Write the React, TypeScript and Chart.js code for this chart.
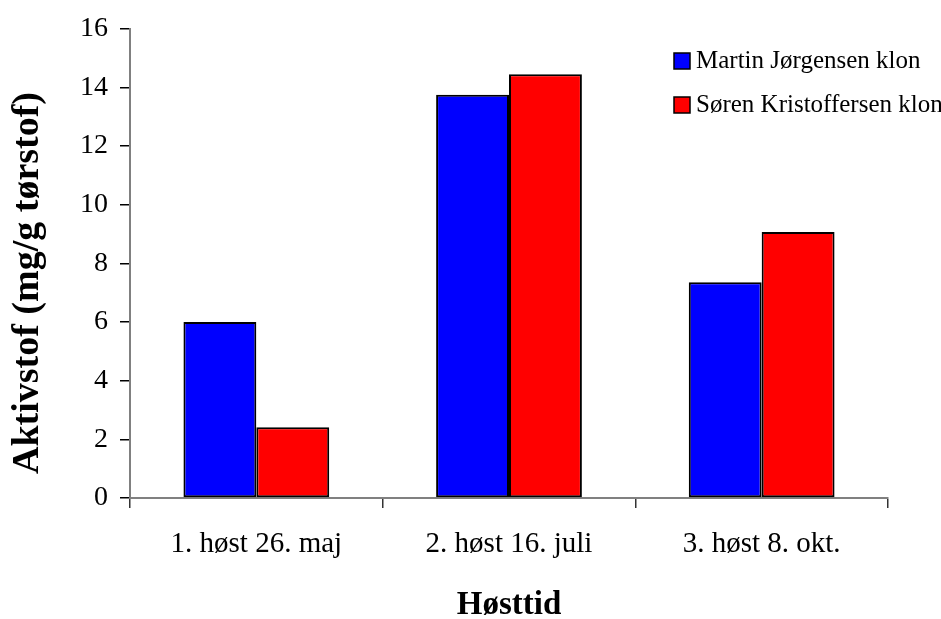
import React, { useEffect, useRef } from "react";
import { Chart, registerables } from "chart.js";

Chart.register(...registerables);

const categories = ["1. høst 26. maj", "2. høst 16. juli", "3. høst 8. okt."];
const seriesNames = ["Martin Jørgensen klon", "Søren Kristoffersen klon"];
const martinValues = [6.0, 13.75, 7.36];
const sorenValues = [2.41, 14.45, 9.07];
const seriesColors = ["#0000FF", "#FF0000"];
const yTitle = "Aktivstof (mg/g tørstof)";
const xTitle = "Høsttid";

const FONT = "'Liberation Serif', 'Times New Roman', serif";

const legendPlugin = {
  id: "customLegend",
  afterDraw(chart: any) {
    const ctx = chart.ctx;
    ctx.save();
    ctx.font = `25px ${FONT}`;
    ctx.textBaseline = "alphabetic";
    ctx.textAlign = "left";
    chart.data.datasets.forEach((ds: any, i: number) => {
      const bx = 674;
      const by = 53 + i * 44;
      ctx.fillStyle = ds.backgroundColor;
      ctx.fillRect(bx, by, 16, 16);
      ctx.strokeStyle = "#000";
      ctx.lineWidth = 1.5;
      ctx.strokeRect(bx, by, 16, 16);
      ctx.fillStyle = "#000";
      ctx.fillText(ds.label, 696, by + 15);
    });
    // y-axis title
    ctx.font = `bold 38px ${FONT}`;
    ctx.textAlign = "center";
    ctx.textBaseline = "middle";
    ctx.translate(28, 283);
    ctx.rotate(-Math.PI / 2);
    ctx.fillText(yTitle, 0, 0);
    ctx.restore();
  },
};

export default function App() {
  const ref = useRef<HTMLCanvasElement>(null);
  useEffect(() => {
    if (!ref.current) return;
    const chart = new Chart(ref.current, {
      type: "bar",
      data: {
        labels: categories,
        datasets: [
          {
            label: seriesNames[0],
            data: martinValues,
            backgroundColor: seriesColors[0],
            borderColor: "#000",
            borderWidth: 2,
            borderSkipped: false,
          },
          {
            label: seriesNames[1],
            data: sorenValues,
            backgroundColor: seriesColors[1],
            borderColor: "#000",
            borderWidth: 2,
            borderSkipped: false,
          },
        ],
      },
      options: {
        animation: false,
        responsive: false,
        maintainAspectRatio: false,
        layout: { padding: { top: 27, right: 53, left: 0, bottom: 0 } },
        datasets: { bar: { categoryPercentage: 0.577, barPercentage: 1.0 } },
        plugins: {
          legend: { display: false },
          tooltip: { enabled: false },
        },
        scales: {
          x: {
            grid: {
              offset: true,
              drawOnChartArea: false,
              drawTicks: true,
              tickLength: 10,
              color: "#333",
              lineWidth: 1.5,
            },
            border: { color: "#808080", width: 2 },
            ticks: {
              color: "#000",
              font: { family: FONT, size: 29 },
              padding: 19,
              maxRotation: 0,
            },
            title: {
              display: true,
              text: xTitle,
              color: "#000",
              font: { family: FONT, size: 33, weight: "bold" },
              padding: { top: 27, bottom: -6 },
            },
            afterFit(scale: any) {
              scale.height = 121;
            },
          },
          y: {
            min: 0,
            max: 16,
            ticks: {
              stepSize: 2,
              color: "#000",
              font: { family: FONT, size: 28 },
              padding: 12,
            },
            grid: {
              drawOnChartArea: false,
              drawTicks: true,
              tickLength: 10,
              color: "#000",
              lineWidth: 1.5,
            },
            border: { color: "#808080", width: 2 },
            afterFit(scale: any) {
              scale.width = 130;
            },
          },
        },
      },
      plugins: [legendPlugin],
    });
    return () => chart.destroy();
  }, []);
  return (
    <div style={{ position: "fixed", left: 0, top: 0, width: 941, height: 619, background: "#fff" }}>
      <canvas ref={ref} width={941} height={619} style={{ width: 941, height: 619, display: "block" }} />
    </div>
  );
}
